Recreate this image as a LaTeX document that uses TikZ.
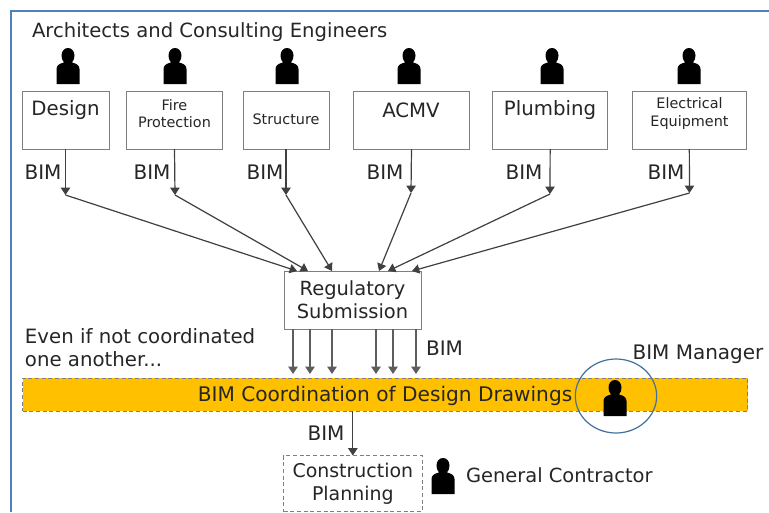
\documentclass[tikz,border=0pt]{standalone}
\usepackage{fontspec}
\setmainfont{DejaVu Sans}
\usetikzlibrary{arrows.meta,shapes.geometric}
\definecolor{txt}{HTML}{262626}
\definecolor{frameblue}{HTML}{4F81BD}
\definecolor{ringblue}{HTML}{41719C}
\definecolor{barfill}{HTML}{FFC000}
\definecolor{edge}{HTML}{7F7F7F}
\definecolor{arrowc}{HTML}{404040}
\tikzset{
  x=0.75pt,y=-0.75pt,
  every node/.style={text=txt,inner sep=0pt,outer sep=0pt,align=center},
  boxnode/.style={draw=edge,line width=0.75pt,fill=white,minimum width=#1,anchor=north west},
  big/.style={font=\fontsize{14.8}{17}\selectfont},
  small/.style={font=\fontsize{10.8}{13}\selectfont},
  mid/.style={font=\fontsize{14.6}{17.4}\selectfont},
  lab/.style={font=\fontsize{14.8}{16}\selectfont},
  wide/.style={font=\fontsize{15}{16}\selectfont},
  flow/.style={draw=arrowc,line width=0.9pt,-{Triangle[length=5.5pt,width=7pt]}},
  person/.pic={
    \fill[black] (-11.5,36) -- (-11.5,21) .. controls (-11.5,17) and (-8,15.5) .. (-4,14.5)
      .. controls (-5.8,12.5) and (-6.5,10) .. (-6.5,7.5)
      .. controls (-6.5,3) and (-3.5,0) .. (0,0)
      .. controls (3.5,0) and (6.5,3) .. (6.5,7.5)
      .. controls (6.5,10) and (5.8,12.5) .. (4,14.5)
      .. controls (8,15.5) and (11.5,17) .. (11.5,21) -- (11.5,36) -- cycle;
  }
}
\begin{document}
\begin{tikzpicture}
\useasboundingbox (0,0) rectangle (769,512);
\fill[white] (0,0) rectangle (769,512);
\draw[frameblue,line width=1.5pt] (10.5,512) -- (10.5,11) -- (769,11);

\node[font=\fontsize{14.7}{16}\selectfont,anchor=west] (title) at (32,32) {Architects and Consulting Engineers};

\pic at (68,48) {person};
\pic at (175,48) {person};
\pic at (287,48) {person};
\pic at (409,48) {person};
\pic at (552,48) {person};
\pic at (689,48) {person};

\node[boxnode=65.25pt,minimum height=43.5pt] (design) at (22,91) {};
\node[boxnode=72pt,minimum height=43.5pt] (fire) at (126.5,91) {};
\node[boxnode=64.5pt,minimum height=43.5pt] (struct) at (243,91) {};
\node[boxnode=87pt,minimum height=43.5pt] (acmv) at (353.5,91) {};
\node[boxnode=86.5pt,minimum height=43.5pt] (plumb) at (492.5,91) {};
\node[boxnode=86pt,minimum height=43.5pt] (elec) at (632,91) {};

\node[big] (tdesign) at (65.5,110) {Design};
\node[small] (tfire) at (174.5,113.5) {Fire\\Protection};
\node[small] (tstruct) at (286,119) {Structure};
\node[big] (tacmv) at (411,110) {ACMV};
\node[big] (tplumb) at (550,110) {Plumbing};
\node[small] (telec) at (689.5,113.5) {Electrical\\Equipment};

\node[wide] (b1) at (43,172) {BIM};
\node[wide] (b2) at (152,172) {BIM};
\node[wide] (b3) at (265,172) {BIM};
\node[wide] (b4) at (385,172) {BIM};
\node[wide] (b5) at (524,172) {BIM};
\node[wide] (b6) at (666,172) {BIM};

\coordinate (j1) at (65.5,195);
\coordinate (j2) at (175,195);
\coordinate (j3) at (286,195);
\coordinate (j4) at (411,193);
\coordinate (j5) at (550,194);
\coordinate (j6) at (689.5,193);

\node[boxnode=102.75pt,minimum height=43.5pt,mid,text width=102.75pt] (reg) at (284,271) {Regulatory\\Submission};

\foreach \a/\b in {design/j1,fire/j2,struct/j3,acmv/j4,plumb/j5,elec/j6}
  \draw[flow] (\a.south) -- (\b);

\coordinate (i1) at (297,271);
\coordinate (i2) at (308,271);
\coordinate (i3) at (332,271);
\coordinate (i4) at (379,271);
\coordinate (i5) at (388,271);
\coordinate (i6) at (412,271);
\draw[flow] (j1) -- (i1);
\draw[flow] (j2) -- (i2);
\draw[flow] (j3) -- (i3);
\draw[flow] (j4) -- (i4);
\draw[flow] (j5) -- (i5);
\draw[flow] (j6) -- (i6);

\node[lab,align=left,anchor=north west,font=\fontsize{14.8}{17.4}\selectfont] (even) at (25,328.5) {Even if not coordinated\\one another...};

\node[draw=edge,densely dashed,line width=0.7pt,fill=barfill,minimum width=543.75pt,minimum height=24.75pt,anchor=north west] (bar) at (22.5,378) {};
\node[font=\fontsize{15.1}{16}\selectfont] (tbar) at (385,396) {BIM Coordination of Design Drawings};

\foreach \n/\x in {o1/293,o2/310,o3/332,o4/376,o5/393,o6/416}{
  \coordinate (\n) at (\x,374);
  \draw[flow,draw=arrowc!85!white] (reg.south -| \n) -- (\n);
}
\node[wide] (b7) at (444.5,348) {BIM};
\node[wide] (mgr) at (698,354) {BIM Manager};

\pic at (615,380) {person};
\node[draw=ringblue,line width=0.9pt,ellipse,minimum width=61pt,minimum height=55.5pt] (ring) at (616,396) {};

\node[draw=edge,densely dashed,line width=0.7pt,fill=white,minimum width=104pt,minimum height=42pt,anchor=north west,font=\fontsize{14.2}{17.4}\selectfont,text width=104pt] (plan) at (283.5,455.5) {Construction\\Planning};
\draw[flow] (bar.south -| plan.north) -- (plan.north);
\node[wide] (b8) at (326,433) {BIM};
\pic at (443,458) {person};
\node[font=\fontsize{14.6}{16}\selectfont,anchor=west] (gc) at (466,475) {General Contractor};
\end{tikzpicture}
\end{document}
